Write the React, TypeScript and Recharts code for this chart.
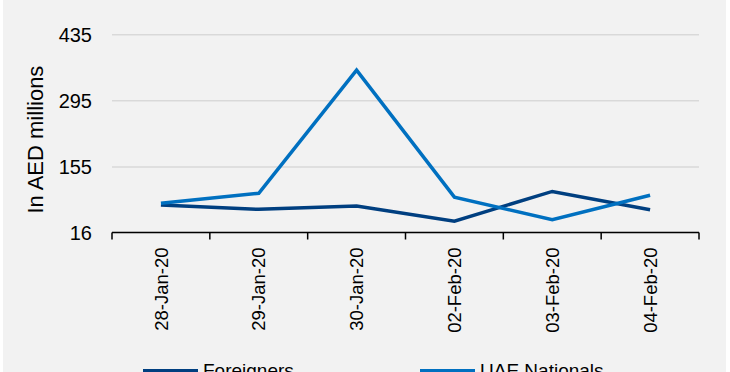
import { CartesianGrid, Line, LineChart, XAxis, YAxis } from "recharts";

const categories = ["28-Jan-20", "29-Jan-20", "30-Jan-20", "02-Feb-20", "03-Feb-20", "04-Feb-20"];
const foreigners = [74, 65, 72, 40, 103, 64];
const uaeNationals = [78, 99, 360, 91, 43, 95];
const yTicks = [16, 155, 295, 435];

const series = [
  { key: "foreigners", name: "Foreigners", color: "#003f80" },
  { key: "uae", name: "UAE Nationals", color: "#0070c0" },
];

const data = categories.map((label, idx) => ({
  idx,
  label,
  foreigners: foreigners[idx],
  uae: uaeNationals[idx],
}));

// half steps mark the category boundaries, whole steps carry the labels
const xTicks: number[] = [];
for (let i = -0.5; i <= categories.length - 0.5; i += 0.5) xTicks.push(i);

const FONT = "'Liberation Sans', Arial, sans-serif";

function XTick({ x, y, payload }: any) {
  const v = payload.value;
  if (!Number.isInteger(v)) {
    return <line x1={x} x2={x} y1={y} y2={y + 7} stroke="#000" strokeWidth={1.5} />;
  }
  const ty = y + 15;
  return (
    <text
      x={x}
      y={ty}
      transform={`rotate(-90, ${x}, ${ty})`}
      textAnchor="end"
      dy="0.36em"
      fontSize={18.5}
      fontFamily={FONT}
      fill="#000"
    >
      {categories[v]}
    </text>
  );
}

function YTitle({ viewBox }: any) {
  const x = 35;
  const y = viewBox.y + viewBox.height / 2 + 6;
  return (
    <text
      x={x}
      y={y}
      transform={`rotate(-90, ${x}, ${y})`}
      textAnchor="middle"
      dy="0.36em"
      fontSize={22}
      fontFamily={FONT}
      fill="#000"
    >
      In AED millions
    </text>
  );
}

export default function App() {
  return (
    <div style={{ position: "absolute", left: 0, top: 0, width: 730, height: 372, background: "#fff", overflow: "hidden" }}>
      <div style={{ position: "absolute", left: 3, top: 0, width: 723, height: 372, background: "#f2f2f2" }} />
      <LineChart
        width={730}
        height={372}
        data={data}
        margin={{ top: 34.7, right: 31, left: 0, bottom: 0 }}
        style={{ position: "absolute", left: 0, top: 0 }}
      >
        <CartesianGrid vertical={false} stroke="#d9d9d9" strokeWidth={1.5} />
        <XAxis
          dataKey="idx"
          type="number"
          domain={[-0.5, categories.length - 0.5]}
          ticks={xTicks}
          interval={0}
          tickLine={false}
          tickSize={0}
          tickMargin={0}
          tick={<XTick />}
          axisLine={{ stroke: "#000", strokeWidth: 1.5 }}
          height={139.5}
        />
        <YAxis
          domain={[16, 435]}
          ticks={yTicks}
          interval={0}
          width={112}
          axisLine={false}
          tickLine={false}
          tickSize={0}
          tickMargin={20}
          tick={{ fontSize: 20, fontFamily: FONT, fill: "#000" }}
          label={<YTitle />}
        />
        {series.map((s) => (
          <Line
            key={s.key}
            dataKey={s.key}
            name={s.name}
            stroke={s.color}
            strokeWidth={3.5}
            dot={false}
            activeDot={false}
            isAnimationActive={false}
          />
        ))}
      </LineChart>
      {series.map((s, i) => (
        <div
          key={s.key}
          style={{
            position: "absolute",
            left: i === 0 ? 143 : 420,
            top: 360,
            display: "flex",
            alignItems: "center",
            fontFamily: FONT,
            fontSize: 19,
            lineHeight: "22px",
            color: "#000",
          }}
        >
          <span style={{ display: "inline-block", width: 55, height: 4, background: s.color, marginRight: 5 }} />
          {s.name}
        </div>
      ))}
    </div>
  );
}
